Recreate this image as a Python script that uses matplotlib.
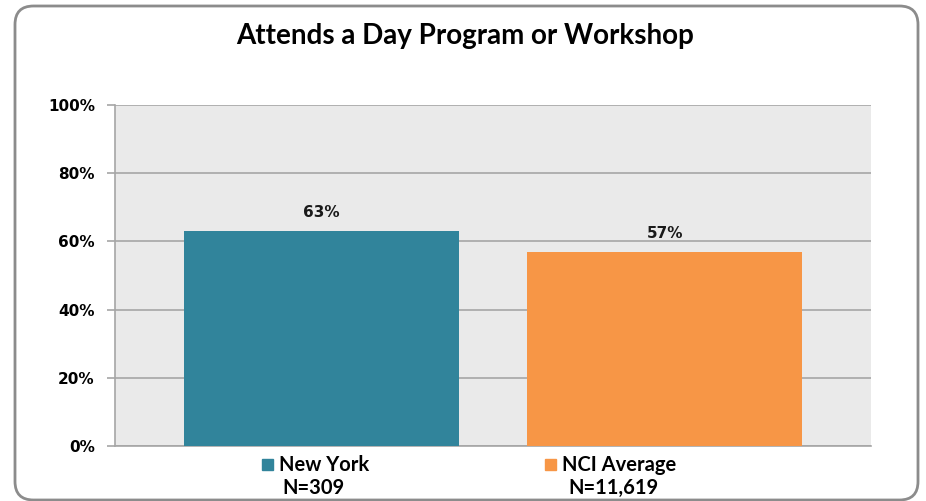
import matplotlib.pyplot as plt
from matplotlib.patches import FancyBboxPatch, Rectangle
from matplotlib.ticker import FuncFormatter

title = 'Attends a Day Program or Workshop'
groups = ['New York', 'NCI Average']
sizes = ['N=309', 'N=11,619']
values = [63, 57]
colors = ['#31849B', '#F79646']

W, H = 926, 501
fig = plt.figure(figsize=(W / 100, H / 100), dpi=100)

# rounded frame around the whole chart
frame = FancyBboxPatch((15 / W, 1 / H), 903 / W, 494 / H,
                       boxstyle='round,pad=0,rounding_size=0.02',
                       transform=fig.transFigure, facecolor='none',
                       edgecolor='#8C8C8C', linewidth=2, mutation_aspect=W / H,
                       zorder=5)
fig.patches.append(frame)

ax = fig.add_axes([115 / W, 55 / H, 756 / W, 341 / H])
ax.set_facecolor('#EAEAEA')
x = list(range(len(values)))
bars = ax.bar(x, values, width=0.8, color=colors, zorder=3)
ax.set_xlim(-0.6, 1.6)
ax.set_ylim(0, 100)
ax.set_yticks(range(0, 101, 20))
ax.yaxis.set_major_formatter(FuncFormatter(lambda v, p: f'{v:.0f}%'))
ax.set_xticks([])
ax.grid(axis='y', color='#A6A6A6', linewidth=1.2, zorder=1)
for s in ['top', 'right']:
    ax.spines[s].set_visible(False)
for s in ['left', 'bottom']:
    ax.spines[s].set_color('#A6A6A6')
    ax.spines[s].set_linewidth(1.2)
ax.tick_params(axis='y', length=6, color='#A6A6A6', width=1.2, pad=8.5,
               labelsize=11)
for lab in ax.get_yticklabels():
    lab.set_fontweight('bold')
    lab.set_family('DejaVu Sans')

for b, v in zip(bars, values):
    ax.annotate(f'{v}%', (b.get_x() + b.get_width() / 2, v),
                xytext=(0, 8), textcoords='offset points', ha='center',
                va='bottom', fontsize=11, fontweight='bold',
                family='DejaVu Sans', color='#1A1A1A')

fig.text(465 / W, 1 - 36 / H, title, ha='center', va='center',
         fontsize=20, fontweight='bold', family='Lato')

# legend entries with sample sizes below
leg_x = [262, 545]
n_x = [313, 613]
for c, g, n, lx, nx in zip(colors, groups, sizes, leg_x, n_x):
    fig.patches.append(Rectangle((lx / W, 1 - 470 / H), 11 / W, 11 / H,
                                 transform=fig.transFigure, color=c))
    fig.text((lx + 17) / W, 1 - 465 / H, g, ha='left', va='center',
             fontsize=14.5, fontweight='bold', family='Lato')
    fig.text(nx / W, 1 - 488 / H, n, ha='center', va='center',
             fontsize=14.5, fontweight='bold', family='Lato')

fig.savefig('out.png', dpi=100)
